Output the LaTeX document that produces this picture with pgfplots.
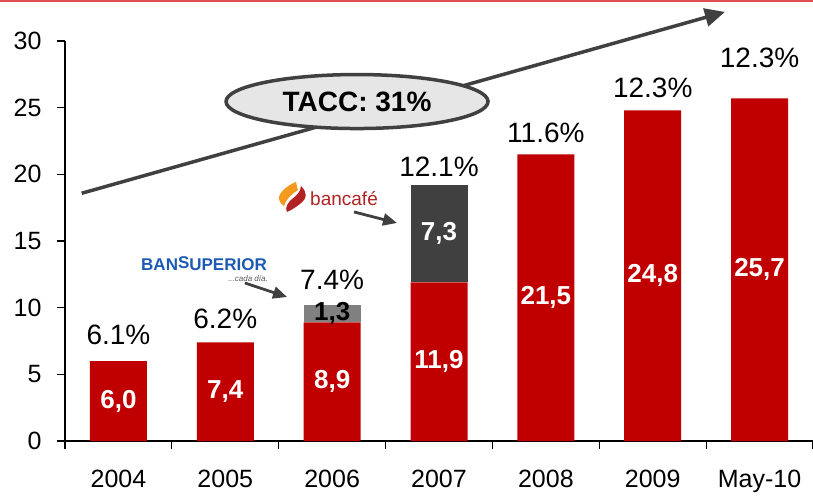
\documentclass[border=0pt]{standalone}
\usepackage{pgfplots}
\pgfplotsset{compat=1.18}
\usepackage{fontspec}
\setmainfont{Liberation Sans}
\usetikzlibrary{arrows.meta}
\definecolor{barred}{RGB}{192,0,0}
\definecolor{darkbar}{RGB}{64,64,64}
\definecolor{midbar}{RGB}{128,128,128}
\definecolor{arrowgray}{RGB}{64,64,64}
\definecolor{ellfill}{RGB}{230,230,230}
\definecolor{topred}{RGB}{224,80,80}
\definecolor{bsblue}{RGB}{30,90,180}
\definecolor{bcred}{RGB}{178,34,34}
\definecolor{bcorange}{RGB}{243,154,30}
\definecolor{smallgray}{RGB}{90,90,90}
\tikzset{
  vallab/.style={font=\fontsize{26}{26}\selectfont\bfseries, text=white, inner sep=0pt},
  pctlab/.style={font=\fontsize{28}{28}\selectfont, text=black, inner sep=0pt},
}
\begin{document}
\begin{tikzpicture}
\begin{axis}[
  scale only axis, width=748pt, height=400pt,
  xmin=-0.5, xmax=6.5, ymin=0, ymax=30,
  axis lines=left, axis line style={-, line width=1.1pt, black},
  clip=false,
  ybar stacked, bar width=57pt,
  xtick={0,1,2,3,4,5,6}, xticklabels={2004,2005,2006,2007,2008,2009,May-10},
  minor xtick={-0.5,0.5,1.5,2.5,3.5,4.5,5.5,6.5},
  ytick={0,5,10,15,20,25,30},
  minor ytick={0,5,10,15,20,25,30},
  tick align=outside, major tick length=0pt, minor tick length=8pt,
  tick style={line width=1.1pt, black},
  tick label style={font=\fontsize{25}{25}\selectfont},
  /pgf/number format/assume math mode=true,
  xticklabel style={inner sep=0pt, yshift=-29pt},
  yticklabel style={xshift=-20pt},
]
\addplot[fill=barred, draw=none] coordinates {(0,6.0) (1,7.4) (2,8.9) (3,11.9) (4,21.5) (5,24.8) (6,25.7)};
\addplot[fill=midbar, draw=none] coordinates {(0,0) (1,0) (2,1.3) (3,0) (4,0) (5,0) (6,0)};
\addplot[fill=darkbar, draw=none] coordinates {(0,0) (1,0) (2,0) (3,7.3) (4,0) (5,0) (6,0)};

\coordinate (v0) at (axis cs:0,3.0);
\coordinate (v1) at (axis cs:1,3.7);
\coordinate (v2) at (axis cs:2,4.45);
\coordinate (v3) at (axis cs:3,5.95);
\coordinate (v4) at (axis cs:4,10.75);
\coordinate (v5) at (axis cs:5,12.4);
\coordinate (v6) at (axis cs:6,12.85);
\coordinate (v7) at (axis cs:3,15.55);
\coordinate (v8) at (axis cs:2,9.55);

\coordinate (p0) at (axis cs:0,7.95);
\coordinate (p1) at (axis cs:1,9.15);
\coordinate (p2) at (axis cs:2,12.08);
\coordinate (p3) at (axis cs:3,20.6);
\coordinate (p4) at (axis cs:4,23.1);
\coordinate (p5) at (axis cs:5,26.5);
\coordinate (p6) at (axis cs:6,28.7);

\coordinate (arrA) at (axis cs:-0.344,18.58);
\coordinate (arrB) at (axis cs:5.676,32.18);
\coordinate (ellc) at (axis cs:2.233,25.46);
\coordinate (bsc) at (axis cs:0.801,13.28);
\coordinate (cada) at (axis cs:1.40,12.2);
\coordinate (a1A) at (axis cs:1.184,11.85);
\coordinate (a1B) at (axis cs:1.578,10.80);
\coordinate (bct) at (axis cs:1.793,17.70);
\coordinate (a2A) at (axis cs:2.205,17.18);
\coordinate (a2B) at (axis cs:2.607,16.35);
\coordinate (flame) at (axis cs:1.493,19.43);
\coordinate (topA) at (axis cs:-1.1083,33.0);
\coordinate (topB) at (axis cs:6.5,33.0);
\coordinate (bbll) at (axis cs:-1.1083,-4.125);
\coordinate (bbur) at (axis cs:6.5,33.075);
\end{axis}
\node[vallab] at (v0) {6,0};
\node[vallab] at (v1) {7,4};
\node[vallab] at (v2) {8,9};
\node[vallab] at (v3) {11,9};
\node[vallab] at (v4) {21,5};
\node[vallab] at (v5) {24,8};
\node[vallab] at (v6) {25,7};
\node[vallab] at (v7) {7,3};
\node[vallab, text=black] at (v8) {1,3};
\node[pctlab] at (p0) {6.1\%};
\node[pctlab] at (p1) {6.2\%};
\node[pctlab] at (p2) {7.4\%};
\node[pctlab] at (p3) {12.1\%};
\node[pctlab] at (p4) {11.6\%};
\node[pctlab] at (p5) {12.3\%};
\node[pctlab] at (p6) {12.3\%};
\draw[line width=3.5pt, draw=arrowgray, -{Triangle[length=20pt,width=18pt]}] (arrA) -- (arrB);
\draw[line width=3.5pt, draw=arrowgray, fill=ellfill] (ellc) ellipse [x radius=131pt, y radius=27pt];
\node[font=\fontsize{28}{28}\selectfont\bfseries, inner sep=0pt] at (ellc) {TACC: 31\%};
\node[text=bsblue, font=\fontsize{17}{17}\selectfont\bfseries, inner sep=0pt] at (bsc) {BAN\raisebox{2pt}{S}UPERIOR};
\node[anchor=east, text=smallgray, font=\fontsize{8}{8}\selectfont\itshape, inner sep=0pt] at (cada) {...cada día.};
\draw[line width=2.8pt, draw=arrowgray, -{Triangle[length=14pt,width=12pt]}] (a1A) -- (a1B);
\node[anchor=base west, text=bcred, font=\fontsize{19}{19}\selectfont, inner sep=0pt] at (bct) {bancafé};
\draw[line width=2.8pt, draw=arrowgray, -{Triangle[length=14pt,width=12pt]}] (a2A) -- (a2B);
\draw[line width=2pt, draw=topred] (topA) -- (topB);
\begin{scope}[shift={(flame)}, x=1pt, y=-1pt]
\fill[bcorange] (18,0) .. controls (10,3) and (0,11) .. (1,17) .. controls (2,21) and (4,23) .. (6,24) .. controls (8,17) and (14,12) .. (20,8) -- cycle;
\fill[bcred] (23,4) .. controls (29,10) and (30,16) .. (22,22) .. controls (17,26) and (12,29) .. (9,30) .. controls (7,26) and (9,22) .. (13,18) .. controls (18,14) and (23,10) .. (23,4) -- cycle;
\end{scope}
\pgfresetboundingbox
\useasboundingbox (bbll) rectangle (bbur);
\end{tikzpicture}
\end{document}
